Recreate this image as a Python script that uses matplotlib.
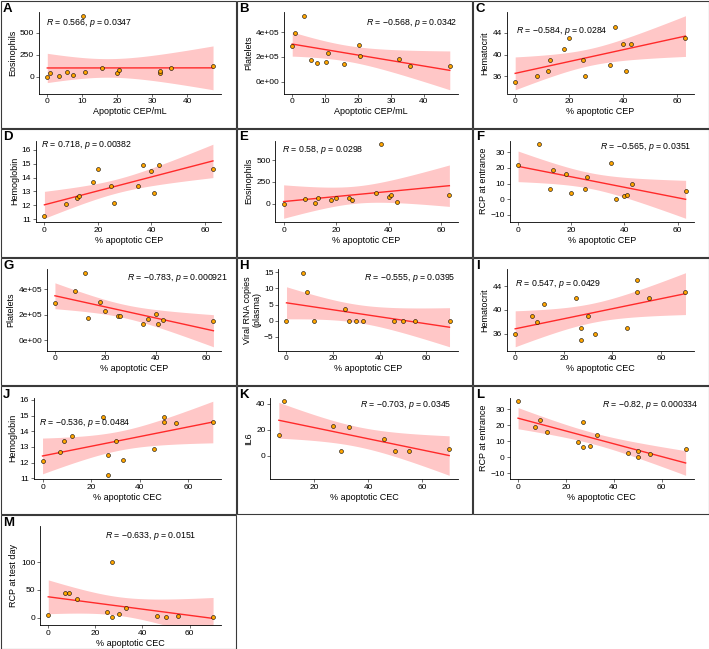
import numpy as np
import matplotlib.pyplot as plt
from matplotlib.patches import Rectangle

plt.rcParams['font.family'] = ['Liberation Sans', 'DejaVu Sans']
plt.rcParams['mathtext.fontset'] = 'custom'
plt.rcParams['mathtext.rm'] = 'Liberation Sans'
plt.rcParams['mathtext.it'] = 'Liberation Sans:italic'

# shared x values (% apoptotic CEP / % apoptotic CEC)
cep_pct = [0, 8, 12, 13, 18, 20, 25, 26, 35, 37, 40, 41, 43, 63]
cec_pct = [0, 7, 9, 12, 25, 27, 27, 30, 33, 46, 50, 50, 55, 70]

a_x = [0, 0.7, 3.4, 5.6, 7.3, 10.1, 10.7, 15.6, 20.0, 20.4, 32.1, 32.2, 35.3, 47.4]
a_y = [0, 48, 4, 59, 19, 693, 59, 96, 41, 78, 41, 63, 96, 119]
b_x = [0, 0.8, 3.5, 5.7, 7.5, 10.2, 10.9, 15.7, 20.3, 20.7, 32.4, 35.7, 47.9]
b_y = [2.86e5, 3.9e5, 5.32e5, 1.72e5, 1.54e5, 1.62e5, 2.33e5, 1.42e5, 2.99e5,
       2.03e5, 1.85e5, 1.24e5, 1.24e5]
c_y = [35, 36, 37, 39, 41, 43, 39, 36, 38, 45, 42, 37, 42, 43]
d_y = [11.2, 12.1, 12.5, 12.7, 13.7, 14.6, 13.4, 12.2, 13.4, 14.9, 14.5, 12.9, 14.9, 14.6]
e_y = [0, 53, 11, 61, 42, 61, 61, 42, 118, 687, 80, 99, 23, 99]
f_y = [22.1, 35.3, 6.5, 18.9, 16, 3.7, 6.7, 14, 23.1, 0.2, 2.2, 2.8, 9.7, 5.5]
g_y = [2.92e5, 3.9e5, 5.32e5, 1.75e5, 3.0e5, 2.32e5, 1.88e5, 1.88e5, 1.29e5,
       1.65e5, 2.06e5, 1.29e5, 1.57e5, 1.47e5]
h_x = [0, 7, 9, 12, 25, 27, 30, 33, 46, 50, 55, 70]
h_y = [0, 14.9, 8.8, 0, 3.5, 0, 0, 0, 0, 0, 0, 0]
i_y = [36, 39, 38, 41, 42, 37, 35, 39, 36, 37, 45, 43, 42, 43]
j_y = [12.1, 12.7, 13.4, 13.7, 14.9, 12.5, 11.2, 13.4, 12.2, 12.9, 14.9, 14.6, 14.5, 14.6]
k_x = [7, 9, 27, 30, 33, 46, 50, 55, 70]
k_y = [16, 42, 23, 4, 22, 13, 4, 4, 5]
l_y = [35.2, 18.9, 23.1, 15.7, 9.5, 22.1, 6.4, 6.8, 14.1, 2.6, 3.6, 0, 2.2, 5.4]
m_x = [0, 7, 9, 12, 25, 27, 27, 30, 33, 46, 50, 55, 70]
m_y = [5, 45, 45, 33, 10, 100, 2, 7, 17, 3, 2, 3, 1]

sci_ticks = ['0e+00', '2e+05', '4e+05']

# letter, x, y, xlabel, ylabel, stat label, xticks, yticks, yticklabels
panels = [
    ('A', a_x, a_y, 'Apoptotic CEP/mL', 'Eosinophils', ('0.566', '0.0347'),
     [0, 10, 20, 30, 40], [0, 250, 500], None),
    ('B', b_x, b_y, 'Apoptotic CEP/mL', 'Platelets', ('\u22120.568', '0.0342'),
     [0, 10, 20, 30, 40], [0, 2e5, 4e5], sci_ticks),
    ('C', cep_pct, c_y, '% apoptotic CEP', 'Hematocrit', ('\u22120.584', '0.0284'),
     [0, 20, 40, 60], [36, 40, 44], None),
    ('D', cep_pct, d_y, '% apoptotic CEP', 'Hemoglobin', ('0.718', '0.00382'),
     [0, 20, 40, 60], [11, 12, 13, 14, 15, 16], None),
    ('E', cep_pct, e_y, '% apoptotic CEP', 'Eosinophils', ('0.58', '0.0298'),
     [0, 20, 40, 60], [0, 250, 500], None),
    ('F', cep_pct, f_y, '% apoptotic CEP', 'RCP at entrance', ('\u22120.565', '0.0351'),
     [0, 20, 40, 60], [-10, 0, 10, 20, 30], None),
    ('G', cep_pct, g_y, '% apoptotic CEP', 'Platelets', ('\u22120.783', '0.000921'),
     [0, 20, 40, 60], [0, 2e5, 4e5], sci_ticks),
    ('H', h_x, h_y, '% apoptotic CEP', 'Viral RNA copies\n(plasma)', ('\u22120.555', '0.0395'),
     [0, 20, 40, 60], [-5, 0, 5, 10, 15], None),
    ('I', cec_pct, i_y, '% apoptotic CEC', 'Hematocrit', ('0.547', '0.0429'),
     [0, 20, 40, 60], [36, 40, 44], None),
    ('J', cec_pct, j_y, '% apoptotic CEC', 'Hemoglobin', ('\u22120.536', '0.0484'),
     [0, 20, 40, 60], [11, 12, 13, 14, 15, 16], None),
    ('K', k_x, k_y, '% apoptotic CEC', 'IL6', ('\u22120.703', '0.0345'),
     [20, 40, 60], [0, 20, 40], None),
    ('L', cec_pct, l_y, '% apoptotic CEC', 'RCP at entrance', ('\u22120.82', '0.000334'),
     [0, 20, 40, 60], [-10, 0, 10, 20, 30], None),
    ('M', m_x, m_y, '% apoptotic CEC', 'RCP at test day', ('\u22120.633', '0.0151'),
     [0, 20, 40, 60], [0, 50, 100], None),
]

# axes left offset inside cell (px), bottom margin (px), stat label position (axes fraction)
left_px = [39, 48, 34, 36, 39, 37, 47, 42, 34, 34, 34, 37, 40]
bottom_px = [35] * 12 + [24]
label_pos = [(0.037, 0.864), (0.47, 0.87), (0.052, 0.763), (0.025, 0.94),
             (0.036, 0.88), (0.49, 0.915), (0.46, 0.884), (0.48, 0.884),
             (0.046, 0.81), (0.028, 0.69), (0.48, 0.906), (0.5, 0.906),
             (0.36, 0.9)]
# M: stat label sits inside the data range, so the y range is taller there
label_data_y = [None] * 12 + [147]
ylim_override = [None] * 12 + [(-13, 165)]

T975 = {5: 2.571, 6: 2.447, 7: 2.365, 8: 2.306, 9: 2.262, 10: 2.228,
        11: 2.201, 12: 2.179, 13: 2.160}


def fit_band(x, y, n=80):
    x = np.asarray(x, float)
    y = np.asarray(y, float)
    slope, icpt = np.polyfit(x, y, 1)
    xs = np.linspace(x.min(), x.max(), n)
    df = len(x) - 2
    res = y - (slope * x + icpt)
    s = np.sqrt(np.sum(res ** 2) / df)
    se = s * np.sqrt(1 / len(x) + (xs - x.mean()) ** 2 / np.sum((x - x.mean()) ** 2))
    yh = slope * xs + icpt
    return xs, yh, yh - T975[df] * se, yh + T975[df] * se


def expand(lo, hi, f=0.05):
    d = (hi - lo) * f
    return lo - d, hi + d


W, H = 709, 649
cw = W / 3
row_top = [0, 128.5, 257, 385.5, 514]
row_h = [128.5, 128.5, 128.5, 128.5, 135]
fig = plt.figure(figsize=(W / 100, H / 100), dpi=100)

for i, (letter, x, y, xlab, ylab, (rv, pv), xt, yt, ytl) in enumerate(panels):
    row, col = i // 3, i % 3
    cx, cy, ch = col * cw, row_top[row], row_h[row]
    fig.patches.append(Rectangle(((cx + 0.5) / W, 1 - (cy + ch - 0.5) / H),
                                 (cw - 1) / W, (ch - 1) / H, transform=fig.transFigure,
                                 fill=False, edgecolor='#3a3a3a', lw=0.8))
    fig.text((cx + 3) / W, 1 - (cy + 9) / H, letter, fontsize=9.5, fontweight='bold',
             va='center', ha='left')

    l, r, t, b = cx + left_px[i], cx + cw - 15, cy + 12, cy + ch - bottom_px[i]
    ax = fig.add_axes([l / W, 1 - b / H, (r - l) / W, (b - t) / H])

    xs, yh, lo, hi = fit_band(x, y)
    ax.fill_between(xs, lo, hi, color='#FF0000', alpha=0.22, lw=0)
    ax.plot(xs, yh, color='#FF2A2A', lw=1.0)
    ax.scatter(x, y, s=8, color='#FFA500', edgecolors='black', linewidths=0.4, zorder=3)

    ax.set_xlim(*expand(min(x), max(x)))
    if ylim_override[i] is not None:
        ax.set_ylim(*ylim_override[i])
    else:
        ax.set_ylim(*expand(min(min(y), lo.min()), max(max(y), hi.max())))
    ax.set_xticks(xt)
    ax.set_yticks(yt)
    if ytl is not None:
        ax.set_yticklabels(ytl)
    for s in ['top', 'right']:
        ax.spines[s].set_visible(False)
    for s in ['left', 'bottom']:
        ax.spines[s].set_linewidth(0.6)
    ax.tick_params(labelsize=6, length=2, width=0.5, pad=1.5, color='#333333')
    ax.set_xlabel(xlab, fontsize=6.5, labelpad=1.5)
    ax.set_ylabel(ylab, fontsize=6.5, labelpad=2, linespacing=1.0)

    stat = '$\\mathit{R}$ = ' + rv + ', $\\mathit{p}$ = ' + pv
    lx, ly = label_pos[i]
    if label_data_y[i] is not None:
        ax.text(lx, label_data_y[i], stat, transform=ax.get_yaxis_transform(which='grid'),
                fontsize=6.3, ha='left', va='center')
    else:
        ax.text(lx, ly, stat, transform=ax.transAxes, fontsize=6.3, ha='left', va='center')

fig.savefig('out.png', dpi=100)
